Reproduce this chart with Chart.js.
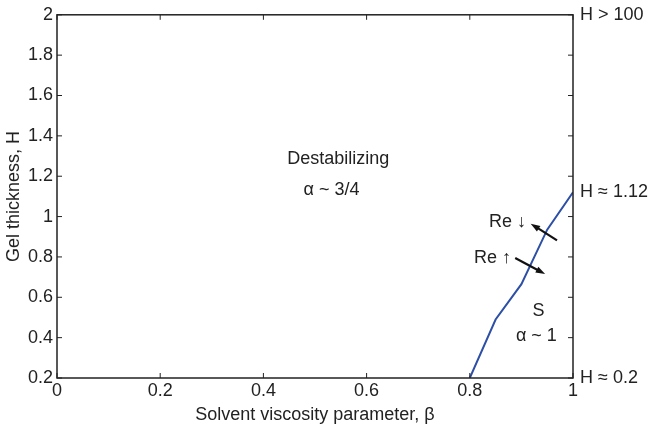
<!DOCTYPE html>
<html>
<head>
<meta charset="utf-8">
<script src="https://cdn.jsdelivr.net/npm/chart.js@4/dist/chart.umd.min.js"></script>
<style>
  html, body { margin: 0; padding: 0; background: #fff; }
  #wrap { width: 651px; height: 426px; }
</style>
</head>
<body>
<div id="wrap"><canvas id="phaseChart" width="651" height="426"></canvas></div>
<script>
// =========================
// DATA
// =========================
const betaValues = [0.8, 0.85, 0.9, 0.95, 1.0];
const thicknessValues = [0.2, 0.49, 0.665, 0.935, 1.12];

const xTicks = [0, 0.2, 0.4, 0.6, 0.8, 1];
const yTicks = [0.2, 0.4, 0.6, 0.8, 1, 1.2, 1.4, 1.6, 1.8, 2];

// right-hand side notes (H value -> text)
const rightNoteValues = [2, 1.12, 0.2];
const rightNoteTexts = ['H > 100', 'H \u2248 1.12', 'H \u2248 0.2'];

// region labels in data coordinates
const labelTexts = ['Destabilizing', '\u03b1 ~ 3/4', 'Re \u2193', 'Re \u2191', 'S', '\u03b1 ~ 1'];
const labelX = [0.545, 0.532, 0.873, 0.844, 0.933, 0.929];
const labelY = [1.285, 1.13, 0.975, 0.793, 0.533, 0.408];

// arrows [x, y] in data coordinates, head at the "to" end
const arrowFrom = [[0.969, 0.882], [0.888, 0.795]];
const arrowTo = [[0.918, 0.965], [0.946, 0.715]];

const FONT = 'Liberation Sans, Arial, Helvetica, sans-serif';
const FONT_SIZE = 18;

// =========================
// PLUGIN: box, inward ticks, notes, arrows
// =========================
const decorations = {
  id: 'decorations',
  afterDraw(chart) {
    const ctx = chart.ctx;
    const area = chart.chartArea;
    const xs = chart.scales.x;
    const ys = chart.scales.y;

    ctx.save();
    ctx.strokeStyle = '#222';
    ctx.lineWidth = 1.5;
    ctx.strokeRect(area.left, area.top, area.right - area.left, area.bottom - area.top);

    // inward ticks
    ctx.lineWidth = 1;
    const len = 5;
    xTicks.forEach(v => {
      const px = xs.getPixelForValue(v);
      ctx.beginPath();
      ctx.moveTo(px, area.bottom); ctx.lineTo(px, area.bottom - len);
      ctx.moveTo(px, area.top); ctx.lineTo(px, area.top + len);
      ctx.stroke();
    });
    yTicks.forEach(v => {
      const py = ys.getPixelForValue(v);
      ctx.beginPath();
      ctx.moveTo(area.left, py); ctx.lineTo(area.left + len, py);
      ctx.moveTo(area.right, py); ctx.lineTo(area.right - len, py);
      ctx.stroke();
    });

    // right side notes
    ctx.fillStyle = '#222';
    ctx.font = FONT_SIZE + 'px ' + FONT;
    ctx.textAlign = 'left';
    ctx.textBaseline = 'middle';
    rightNoteValues.forEach((v, i) => {
      ctx.fillText(rightNoteTexts[i], area.right + 7, ys.getPixelForValue(v));
    });

    // region labels
    ctx.textAlign = 'center';
    labelTexts.forEach((t, i) => {
      ctx.fillText(t, xs.getPixelForValue(labelX[i]), ys.getPixelForValue(labelY[i]));
    });

    // arrows
    ctx.strokeStyle = '#111';
    ctx.fillStyle = '#111';
    ctx.lineWidth = 2.2;
    arrowFrom.forEach((from, i) => {
      const x0 = xs.getPixelForValue(from[0]);
      const y0 = ys.getPixelForValue(from[1]);
      const x1 = xs.getPixelForValue(arrowTo[i][0]);
      const y1 = ys.getPixelForValue(arrowTo[i][1]);
      const ang = Math.atan2(y1 - y0, x1 - x0);
      const head = 10;
      ctx.beginPath();
      ctx.moveTo(x0, y0);
      ctx.lineTo(x1 - Math.cos(ang) * head * 0.8, y1 - Math.sin(ang) * head * 0.8);
      ctx.stroke();
      ctx.beginPath();
      ctx.moveTo(x1, y1);
      ctx.lineTo(x1 - head * Math.cos(ang - 0.33), y1 - head * Math.sin(ang - 0.33));
      ctx.lineTo(x1 - head * Math.cos(ang + 0.33), y1 - head * Math.sin(ang + 0.33));
      ctx.closePath();
      ctx.fill();
    });
    ctx.restore();
  }
};

// =========================
// CHART
// =========================
const ctx = document.getElementById('phaseChart').getContext('2d');

new Chart(ctx, {
  type: 'line',
  data: {
    datasets: [{
      data: betaValues.map((b, i) => ({ x: b, y: thicknessValues[i] })),
      borderColor: '#2d4fa6',
      borderWidth: 2,
      pointRadius: 0,
      tension: 0,
      fill: false
    }]
  },
  options: {
    responsive: false,
    animation: false,
    layout: { padding: { top: 11, right: 0, left: 0, bottom: 0 } },
    plugins: {
      legend: { display: false },
      tooltip: { enabled: false }
    },
    scales: {
      x: {
        type: 'linear',
        min: 0,
        max: 1,
        afterBuildTicks: scale => { scale.ticks = xTicks.map(v => ({ value: v })); },
        afterFit: scale => { scale.height = 48; },
        grid: { display: false, drawTicks: false },
        border: { display: false },
        ticks: {
          color: '#222',
          font: { family: FONT, size: FONT_SIZE },
          padding: 2,
          maxRotation: 0,
          callback: v => String(v)
        },
        title: {
          display: true,
          text: 'Solvent viscosity parameter, \u03b2',
          color: '#222',
          font: { family: FONT, size: FONT_SIZE },
          padding: { top: 0, bottom: 0 }
        }
      },
      y: {
        type: 'linear',
        min: 0.2,
        max: 2,
        afterBuildTicks: scale => { scale.ticks = yTicks.map(v => ({ value: v })); },
        afterFit: scale => { scale.width = 57; },
        grid: { display: false, drawTicks: false },
        border: { display: false },
        ticks: {
          color: '#222',
          font: { family: FONT, size: FONT_SIZE },
          padding: 4,
          callback: v => String(Math.round(v * 10) / 10)
        },
        title: {
          display: true,
          text: 'Gel thickness, H',
          color: '#222',
          font: { family: FONT, size: FONT_SIZE },
          padding: { top: 3, bottom: 0 }
        }
      },
      yRight: {
        type: 'linear',
        position: 'right',
        min: 0.2,
        max: 2,
        afterFit: scale => { scale.width = 78; },
        grid: { display: false, drawTicks: false },
        border: { display: false },
        ticks: { display: false }
      }
    }
  },
  plugins: [decorations]
});
</script>
</body>
</html>
